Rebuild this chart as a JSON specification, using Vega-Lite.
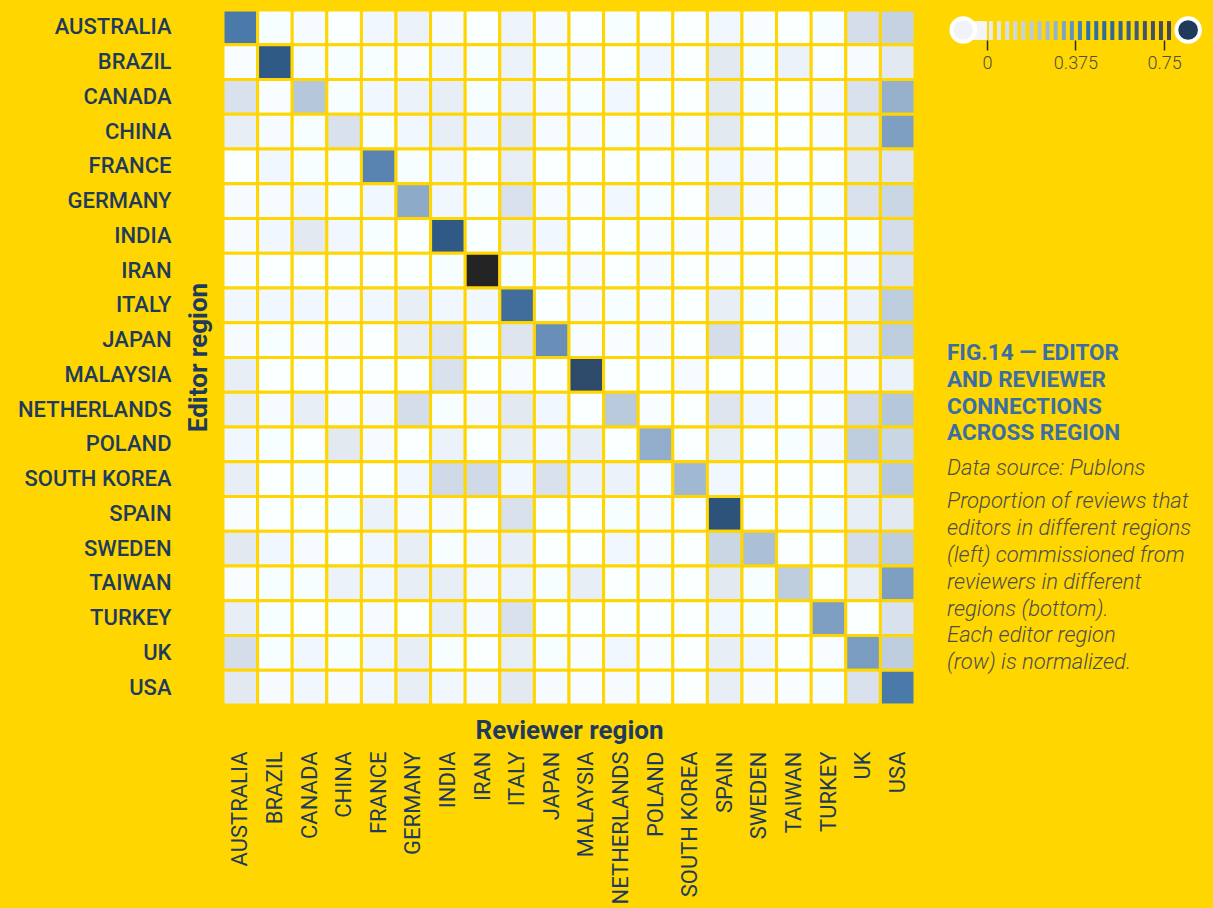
{
  "$schema": "https://vega.github.io/schema/vega-lite/v6.json",
  "background": "#ffd600",
  "padding": {"left": 17, "top": 8, "right": 7, "bottom": 17},
  "bounds": "flush",
  "spacing": 32,
  "config": {"view": {"stroke": null}, "font": "Roboto"},
  "resolve": {"scale": {"color": "independent", "x": "independent", "y": "independent"}},
  "hconcat": [
    {
      "width": 692,
      "height": 695,
      "data": {"name": "matrix"},
      "transform": [{"fold": ["AUSTRALIA","BRAZIL","CANADA","CHINA","FRANCE","GERMANY","INDIA","IRAN","ITALY","JAPAN","MALAYSIA","NETHERLANDS","POLAND","SOUTH KOREA","SPAIN","SWEDEN","TAIWAN","TURKEY","UK","USA"], "as": ["reviewer", "value"]}],
      "mark": {"type": "rect", "stroke": "#ffd600", "strokeWidth": 3},
      "encoding": {
        "x": {
          "field": "reviewer", "type": "nominal",
          "axis": {
            "orient": "bottom", "title": "Reviewer region", "labelAngle": 270, "labelPadding": 46,
            "labelFontSize": 22, "labelFontWeight": 400, "labelColor": "#1f3b5c", "ticks": false, "domain": false,
            "titleFontSize": 26, "titleFontWeight": "bold", "titleColor": "#1f3b5c", "titleY": 25, "titleX": 346,
            "titleBaseline": "middle", "titleAlign": "center"
          }
        },
        "y": {
          "field": "editor", "type": "nominal",
          "axis": {
            "title": "Editor region", "labelPadding": 52, "labelFontSize": 22, "labelFontWeight": 500,
            "labelColor": "#1f3b5c", "ticks": false, "domain": false,
            "titleFontSize": 26, "titleFontWeight": "bold", "titleColor": "#1f3b5c", "titleX": -25, "titleY": 347,
            "titleAngle": 270, "titleBaseline": "middle", "titleAlign": "center"
          }
        },
        "color": {
          "field": "value", "type": "quantitative",
          "scale": {
            "domain": [0, 0.05, 0.12, 0.25, 0.37, 0.5, 0.62, 0.85],
            "range": ["#ffffff", "#e3e9f1", "#bfcedf", "#7e9fc2", "#4a7aaa", "#2f5a85", "#2d4a6a", "#242424"]
          },
          "legend": null
        }
      }
    },
    {
      "bounds": "flush",
      "spacing": 40,
      "resolve": {"scale": {"color": "independent", "x": "independent", "y": "independent"}},
      "vconcat": [
        {
          "width": 260,
          "height": 30,
          "layer": [
            {
              "data": {"name": "ends"},
              "mark": {"type": "rect", "color": "#f4f5f8"},
              "encoding": {
                "x": {"field": "start", "type": "quantitative", "scale": {"domain": [-0.169, 0.932], "nice": false, "zero": false},
                  "axis": {"values": [0, 0.375, 0.75], "format": ".3~f", "title": null, "domain": false, "grid": false,
                    "tickSize": 10, "tickColor": "#2b2b2b", "tickWidth": 1.5, "labelFontSize": 18, "labelFontWeight": 300,
                    "labelColor": "#4d4d4d", "labelPadding": 4, "labelFlush": false}},
                "x2": {"field": "stop"},
                "y": {"datum": 0, "type": "quantitative", "scale": {"domain": [0, 1]}, "axis": null},
                "y2": {"datum": 0.63}
              }
            },
            {
              "data": {"name": "stripes"},
              "mark": {"type": "rect", "width": 4},
              "encoding": {
                "x": {"field": "level", "type": "quantitative"},
                "y": {"datum": 0, "type": "quantitative"},
                "y2": {"datum": 0.63},
                "color": {
                  "field": "level", "type": "quantitative", "legend": null,
                  "scale": {"domain": [0, 0.15, 0.3, 0.42, 0.6, 0.78], "range": ["#eceef4", "#c5d3e3", "#8fb0cf", "#2677ae", "#38607f", "#474747"]}
                }
              }
            },
            {
              "data": {"name": "knobs"},
              "mark": {"type": "circle", "size": 560, "opacity": 1, "stroke": "#ffffff", "strokeWidth": 4},
              "encoding": {
                "x": {"field": "level", "type": "quantitative"},
                "y": {"datum": 0.333, "type": "quantitative"},
                "fill": {"field": "tone", "type": "nominal", "scale": null}
              }
            }
          ]
        },
        {
          "width": 260,
          "height": 625,
          "data": {"name": "notes"},
          "encoding": {
            "x": {"datum": 0, "type": "quantitative", "scale": {"domain": [0, 1]}, "axis": null},
            "y": {"field": "line", "type": "quantitative", "scale": {"domain": [-10.206, 13.157], "reverse": true, "nice": false, "zero": false}, "axis": null},
            "text": {"field": "text"}
          },
          "layer": [
            {
              "transform": [{"filter": "datum.kind == 'head'"}],
              "mark": {"type": "text", "align": "left", "baseline": "middle", "font": "Roboto", "fontSize": 22.5, "fontWeight": "bold", "color": "#3a6ea5"}
            },
            {
              "transform": [{"filter": "datum.kind == 'body'"}],
              "mark": {"type": "text", "align": "left", "baseline": "middle", "font": "Roboto", "fontSize": 22, "fontWeight": 300, "fontStyle": "italic", "color": "#4d4d4d"}
            }
          ]
        }
      ]
    }
  ],
  "datasets": {
    "ends": [{"start": -0.1, "stop": 0.0}],
    "knobs": [{"level": -0.1, "tone": "#f2f3f8"}, {"level": 0.852, "tone": "#1f3a5a"}],
    "stripes": [
      {"level": 0.017}, {"level": 0.051}, {"level": 0.086}, {"level": 0.12}, {"level": 0.154}, {"level": 0.189},
      {"level": 0.223}, {"level": 0.257}, {"level": 0.291}, {"level": 0.326}, {"level": 0.36}, {"level": 0.394},
      {"level": 0.429}, {"level": 0.463}, {"level": 0.497}, {"level": 0.531}, {"level": 0.566}, {"level": 0.6},
      {"level": 0.634}, {"level": 0.669}, {"level": 0.703}, {"level": 0.737}, {"level": 0.771}
    ],
    "notes": [
      {"line": 0, "kind": "head", "text": "FIG.14 — EDITOR"},
      {"line": 1, "kind": "head", "text": "AND REVIEWER"},
      {"line": 2, "kind": "head", "text": "CONNECTIONS"},
      {"line": 3, "kind": "head", "text": "ACROSS REGION"},
      {"line": 4.3, "kind": "body", "text": "Data source: Publons"},
      {"line": 5.55, "kind": "body", "text": "Proportion of reviews that"},
      {"line": 6.55, "kind": "body", "text": "editors in different regions"},
      {"line": 7.55, "kind": "body", "text": "(left) commissioned from"},
      {"line": 8.55, "kind": "body", "text": "reviewers in different"},
      {"line": 9.55, "kind": "body", "text": "regions (bottom)."},
      {"line": 10.55, "kind": "body", "text": "Each editor region"},
      {"line": 11.55, "kind": "body", "text": "(row) is normalized."}
    ],
    "matrix": [
      {"editor": "AUSTRALIA", "AUSTRALIA": 0.37, "BRAZIL": 0.005, "CANADA": 0.01, "CHINA": 0, "FRANCE": 0.02, "GERMANY": 0.03, "INDIA": 0.01, "IRAN": 0, "ITALY": 0.025, "JAPAN": 0.01, "MALAYSIA": 0, "NETHERLANDS": 0.005, "POLAND": 0, "SOUTH KOREA": 0, "SPAIN": 0.02, "SWEDEN": 0.003, "TAIWAN": 0, "TURKEY": 0.005, "UK": 0.08, "USA": 0.11},
      {"editor": "BRAZIL", "AUSTRALIA": 0.003, "BRAZIL": 0.5, "CANADA": 0.005, "CHINA": 0.005, "FRANCE": 0.005, "GERMANY": 0.003, "INDIA": 0.02, "IRAN": 0.005, "ITALY": 0.03, "JAPAN": 0.005, "MALAYSIA": 0.01, "NETHERLANDS": 0, "POLAND": 0.02, "SOUTH KOREA": 0, "SPAIN": 0.05, "SWEDEN": 0.005, "TAIWAN": 0.03, "TURKEY": 0, "UK": 0.01, "USA": 0.05},
      {"editor": "CANADA", "AUSTRALIA": 0.07, "BRAZIL": 0.003, "CANADA": 0.14, "CHINA": 0.005, "FRANCE": 0.02, "GERMANY": 0.03, "INDIA": 0.04, "IRAN": 0.005, "ITALY": 0.03, "JAPAN": 0.01, "MALAYSIA": 0.005, "NETHERLANDS": 0.02, "POLAND": 0, "SOUTH KOREA": 0, "SPAIN": 0.05, "SWEDEN": 0.005, "TAIWAN": 0, "TURKEY": 0.01, "UK": 0.07, "USA": 0.2},
      {"editor": "CHINA", "AUSTRALIA": 0.04, "BRAZIL": 0.01, "CANADA": 0.005, "CHINA": 0.07, "FRANCE": 0.005, "GERMANY": 0.02, "INDIA": 0.04, "IRAN": 0.02, "ITALY": 0.05, "JAPAN": 0.01, "MALAYSIA": 0.01, "NETHERLANDS": 0.005, "POLAND": 0.01, "SOUTH KOREA": 0.003, "SPAIN": 0.05, "SWEDEN": 0, "TAIWAN": 0, "TURKEY": 0.003, "UK": 0.05, "USA": 0.25},
      {"editor": "FRANCE", "AUSTRALIA": 0, "BRAZIL": 0.02, "CANADA": 0.005, "CHINA": 0.005, "FRANCE": 0.34, "GERMANY": 0.005, "INDIA": 0.02, "IRAN": 0, "ITALY": 0.04, "JAPAN": 0, "MALAYSIA": 0, "NETHERLANDS": 0, "POLAND": 0, "SOUTH KOREA": 0.003, "SPAIN": 0.02, "SWEDEN": 0.01, "TAIWAN": 0, "TURKEY": 0, "UK": 0.05, "USA": 0.06},
      {"editor": "GERMANY", "AUSTRALIA": 0.01, "BRAZIL": 0.01, "CANADA": 0.02, "CHINA": 0.005, "FRANCE": 0.02, "GERMANY": 0.22, "INDIA": 0.02, "IRAN": 0.005, "ITALY": 0.07, "JAPAN": 0.01, "MALAYSIA": 0.003, "NETHERLANDS": 0.02, "POLAND": 0.005, "SOUTH KOREA": 0, "SPAIN": 0.05, "SWEDEN": 0.01, "TAIWAN": 0, "TURKEY": 0.005, "UK": 0.07, "USA": 0.1},
      {"editor": "INDIA", "AUSTRALIA": 0.01, "BRAZIL": 0.02, "CANADA": 0.05, "CHINA": 0.02, "FRANCE": 0.005, "GERMANY": 0, "INDIA": 0.5, "IRAN": 0, "ITALY": 0.04, "JAPAN": 0.02, "MALAYSIA": 0, "NETHERLANDS": 0, "POLAND": 0.003, "SOUTH KOREA": 0.003, "SPAIN": 0.01, "SWEDEN": 0, "TAIWAN": 0, "TURKEY": 0.005, "UK": 0.005, "USA": 0.08},
      {"editor": "IRAN", "AUSTRALIA": 0.003, "BRAZIL": 0, "CANADA": 0, "CHINA": 0, "FRANCE": 0, "GERMANY": 0, "INDIA": 0.005, "IRAN": 0.85, "ITALY": 0.005, "JAPAN": 0, "MALAYSIA": 0.01, "NETHERLANDS": 0, "POLAND": 0.01, "SOUTH KOREA": 0, "SPAIN": 0.003, "SWEDEN": 0, "TAIWAN": 0, "TURKEY": 0, "UK": 0.01, "USA": 0.07},
      {"editor": "ITALY", "AUSTRALIA": 0.02, "BRAZIL": 0.02, "CANADA": 0.02, "CHINA": 0.01, "FRANCE": 0.02, "GERMANY": 0.04, "INDIA": 0.02, "IRAN": 0.02, "ITALY": 0.42, "JAPAN": 0, "MALAYSIA": 0.01, "NETHERLANDS": 0.005, "POLAND": 0.003, "SOUTH KOREA": 0, "SPAIN": 0.04, "SWEDEN": 0.005, "TAIWAN": 0, "TURKEY": 0.01, "UK": 0.03, "USA": 0.12},
      {"editor": "JAPAN", "AUSTRALIA": 0.01, "BRAZIL": 0.005, "CANADA": 0.003, "CHINA": 0.003, "FRANCE": 0, "GERMANY": 0.04, "INDIA": 0.06, "IRAN": 0.005, "ITALY": 0.06, "JAPAN": 0.3, "MALAYSIA": 0.003, "NETHERLANDS": 0.003, "POLAND": 0.01, "SOUTH KOREA": 0, "SPAIN": 0.08, "SWEDEN": 0, "TAIWAN": 0.01, "TURKEY": 0, "UK": 0.04, "USA": 0.12},
      {"editor": "MALAYSIA", "AUSTRALIA": 0.04, "BRAZIL": 0, "CANADA": 0, "CHINA": 0, "FRANCE": 0, "GERMANY": 0, "INDIA": 0.07, "IRAN": 0, "ITALY": 0.01, "JAPAN": 0, "MALAYSIA": 0.62, "NETHERLANDS": 0, "POLAND": 0, "SOUTH KOREA": 0.01, "SPAIN": 0, "SWEDEN": 0, "TAIWAN": 0, "TURKEY": 0.01, "UK": 0.01, "USA": 0.03},
      {"editor": "NETHERLANDS", "AUSTRALIA": 0.04, "BRAZIL": 0.01, "CANADA": 0.04, "CHINA": 0.003, "FRANCE": 0.01, "GERMANY": 0.08, "INDIA": 0.005, "IRAN": 0.01, "ITALY": 0.05, "JAPAN": 0.02, "MALAYSIA": 0, "NETHERLANDS": 0.13, "POLAND": 0.003, "SOUTH KOREA": 0, "SPAIN": 0.06, "SWEDEN": 0.02, "TAIWAN": 0, "TURKEY": 0.003, "UK": 0.09, "USA": 0.14},
      {"editor": "POLAND", "AUSTRALIA": 0.02, "BRAZIL": 0.005, "CANADA": 0, "CHINA": 0.05, "FRANCE": 0.01, "GERMANY": 0, "INDIA": 0.03, "IRAN": 0, "ITALY": 0.04, "JAPAN": 0.01, "MALAYSIA": 0.04, "NETHERLANDS": 0, "POLAND": 0.21, "SOUTH KOREA": 0, "SPAIN": 0.04, "SWEDEN": 0, "TAIWAN": 0.005, "TURKEY": 0.01, "UK": 0.12, "USA": 0.1},
      {"editor": "SOUTH KOREA", "AUSTRALIA": 0.04, "BRAZIL": 0, "CANADA": 0.005, "CHINA": 0, "FRANCE": 0, "GERMANY": 0.02, "INDIA": 0.09, "IRAN": 0.09, "ITALY": 0.02, "JAPAN": 0.07, "MALAYSIA": 0.03, "NETHERLANDS": 0.03, "POLAND": 0.003, "SOUTH KOREA": 0.18, "SPAIN": 0.02, "SWEDEN": 0, "TAIWAN": 0, "TURKEY": 0, "UK": 0.05, "USA": 0.13},
      {"editor": "SPAIN", "AUSTRALIA": 0.003, "BRAZIL": 0, "CANADA": 0, "CHINA": 0.005, "FRANCE": 0.03, "GERMANY": 0.01, "INDIA": 0.01, "IRAN": 0, "ITALY": 0.07, "JAPAN": 0, "MALAYSIA": 0, "NETHERLANDS": 0.005, "POLAND": 0.003, "SOUTH KOREA": 0, "SPAIN": 0.55, "SWEDEN": 0, "TAIWAN": 0, "TURKEY": 0.005, "UK": 0.04, "USA": 0.05},
      {"editor": "SWEDEN", "AUSTRALIA": 0.05, "BRAZIL": 0.02, "CANADA": 0.01, "CHINA": 0, "FRANCE": 0.02, "GERMANY": 0.04, "INDIA": 0.005, "IRAN": 0.01, "ITALY": 0.04, "JAPAN": 0, "MALAYSIA": 0, "NETHERLANDS": 0.02, "POLAND": 0.003, "SOUTH KOREA": 0, "SPAIN": 0.1, "SWEDEN": 0.16, "TAIWAN": 0, "TURKEY": 0, "UK": 0.08, "USA": 0.12},
      {"editor": "TAIWAN", "AUSTRALIA": 0.003, "BRAZIL": 0.005, "CANADA": 0.005, "CHINA": 0.03, "FRANCE": 0.02, "GERMANY": 0.04, "INDIA": 0.04, "IRAN": 0.01, "ITALY": 0.03, "JAPAN": 0.005, "MALAYSIA": 0.04, "NETHERLANDS": 0, "POLAND": 0.003, "SOUTH KOREA": 0, "SPAIN": 0.05, "SWEDEN": 0.005, "TAIWAN": 0.12, "TURKEY": 0, "UK": 0.04, "USA": 0.25},
      {"editor": "TURKEY", "AUSTRALIA": 0.04, "BRAZIL": 0.005, "CANADA": 0, "CHINA": 0.005, "FRANCE": 0.01, "GERMANY": 0, "INDIA": 0.04, "IRAN": 0.01, "ITALY": 0.07, "JAPAN": 0, "MALAYSIA": 0, "NETHERLANDS": 0, "POLAND": 0, "SOUTH KOREA": 0, "SPAIN": 0.02, "SWEDEN": 0.005, "TAIWAN": 0, "TURKEY": 0.25, "UK": 0, "USA": 0.07},
      {"editor": "UK", "AUSTRALIA": 0.08, "BRAZIL": 0.005, "CANADA": 0.02, "CHINA": 0.005, "FRANCE": 0.02, "GERMANY": 0.04, "INDIA": 0.005, "IRAN": 0, "ITALY": 0.04, "JAPAN": 0.005, "MALAYSIA": 0.003, "NETHERLANDS": 0.02, "POLAND": 0.003, "SOUTH KOREA": 0, "SPAIN": 0.04, "SWEDEN": 0.02, "TAIWAN": 0, "TURKEY": 0.003, "UK": 0.26, "USA": 0.12},
      {"editor": "USA", "AUSTRALIA": 0.05, "BRAZIL": 0.01, "CANADA": 0.02, "CHINA": 0.01, "FRANCE": 0.02, "GERMANY": 0.04, "INDIA": 0.02, "IRAN": 0.01, "ITALY": 0.05, "JAPAN": 0.01, "MALAYSIA": 0.003, "NETHERLANDS": 0.01, "POLAND": 0.003, "SOUTH KOREA": 0, "SPAIN": 0.04, "SWEDEN": 0.01, "TAIWAN": 0.003, "TURKEY": 0.005, "UK": 0.07, "USA": 0.37}
    ]
  }
}
